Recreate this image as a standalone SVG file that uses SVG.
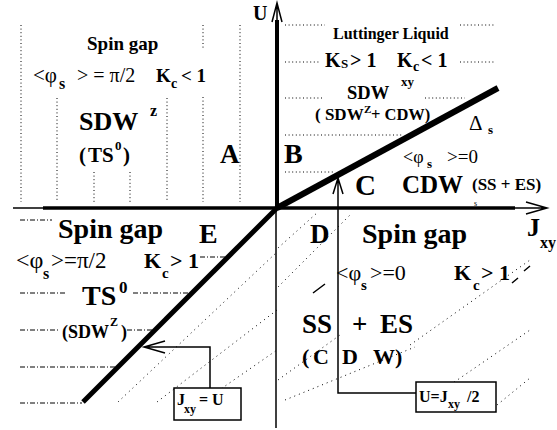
<svg xmlns="http://www.w3.org/2000/svg" width="557" height="430" viewBox="0 0 557 430">
<style>
text{font-family:"Liberation Serif","Times New Roman",serif;fill:#000}
.b{font-weight:bold}
.dot{stroke:#000;stroke-width:1;stroke-dasharray:1 2.6;fill:none}
.dd{stroke:#000;stroke-width:1;stroke-dasharray:5 2 1 2;fill:none}
.hd{stroke:#000;stroke-width:1;stroke-dasharray:1 4;fill:none}
.thin{stroke:#000;stroke-width:1.5;fill:none}
.box{stroke:#000;stroke-width:1.5;fill:#fff}
</style>
<rect width="557" height="430" fill="#fff"/>

<g id="hatching">
<path class="dot" d="M21,25V202M57,98V202M94,172V202M130,172V202M167,98V202M203,25V48M203,97V202M240,25V202"/>
<path class="dot" d="M285,25H325M460,25H495M285,62H320M460,62H495M285,98H322M425,98H465M285,135H403M285,172H335"/>
<path class="dd" d="M20,220H52M200,257H228M20,293H65M133,293H190M20,330H60M127,330H152M20,367H118M20,403H82"/>
<path class="hd" d="M278,248L318,212M278,287L350,215M118,402L277,252M157,402L277,310M205,400L277,350M410,345L530,260M450,385L530,330M497,405L530,378M285,400L415,347M278,380L340,335"/>
<path class="thin" stroke-width="1" d="M313,293L325,284M512,283L518,278M524,271L530,266"/>
</g>

<g id="axes">
<path class="thin" d="M13,208H43"/>
<path stroke="#000" stroke-width="3.5" d="M43,208H515"/>
<path class="thin" d="M515,208H546M526,202L547,208L526,214"/>
<path stroke="#000" stroke-width="4" d="M277,210V20"/>
<path class="thin" d="M277,20V3M272,22L277,3L282,22"/>
<path class="thin" d="M276,208V428"/>
</g>

<g id="connectors">
<path stroke="#000" stroke-width="6" stroke-linecap="butt" d="M277,208L498,88"/>
<path stroke="#000" stroke-width="5" stroke-linecap="butt" d="M277,208L83,402"/>
<path class="thin" d="M338,178V393H416M333,194L338,178L343,194"/>
<path class="thin" d="M210,388V347H145M165,341L144,347L165,353"/>
</g>

<g id="box-u-jxy2">
<rect class="box" x="416" y="382" width="80" height="30"/>
<text class="b" font-size="16" x="419" y="402">U=J</text>
<text class="b" font-size="12" x="448" y="408">xy</text>
<text class="b" font-size="16" x="467" y="402">/2</text>
</g>

<g id="box-jxy-u">
<rect class="box" x="174" y="388" width="67" height="32"/>
<text class="b" font-size="16" x="177" y="405">J</text>
<text class="b" font-size="12" x="184" y="413">xy</text>
<text class="b" font-size="16" x="199" y="405">= U</text>
</g>

<g id="axis-labels">
<text class="b" font-size="20" x="253" y="20">U</text>
<text class="b" font-size="26" x="527" y="236">J</text>
<text class="b" font-size="16" x="540" y="248">xy</text>
</g>

<g id="region-A">
<text class="b" font-size="19" x="87" y="50">Spin gap</text>
<text font-size="21" x="33" y="82">&lt;φ</text>
<text class="b" font-size="16" x="59" y="89">s</text>
<text font-size="20" x="77" y="82">&gt; = π/2</text>
<text class="b" font-size="19" x="156" y="82">K</text>
<text class="b" font-size="14" x="171" y="88">c</text>
<text class="b" font-size="19" x="181" y="82">&lt; 1</text>
<text class="b" font-size="26" x="79" y="130">SDW</text>
<text class="b" font-size="16" x="150" y="116">z</text>
<text class="b" font-size="21" x="79" y="162">(</text>
<text class="b" font-size="21" x="88" y="162">TS</text>
<text class="b" font-size="13" x="115" y="150">0</text>
<text class="b" font-size="21" x="123" y="162">)</text>
<text class="b" font-size="27" x="220" y="163">A</text>
</g>

<g id="region-B">
<text class="b" font-size="16" x="333" y="39">Luttinger Liquid</text>
<text class="b" font-size="20" x="325" y="67">K</text>
<text class="b" font-size="13" x="341" y="68">S</text>
<text class="b" font-size="20" x="350" y="67">&gt; 1</text>
<text class="b" font-size="20" x="397" y="67">K</text>
<text class="b" font-size="14" x="413" y="71">c</text>
<text class="b" font-size="20" x="421" y="67">&lt; 1</text>
<text class="b" font-size="18.5" x="347" y="99">SDW</text>
<text class="b" font-size="13" x="401" y="86">xy</text>
<text class="b" font-size="17" x="315" y="120">( SDW</text>
<text class="b" font-size="11" x="364" y="113">Z</text>
<text class="b" font-size="16.5" x="371" y="120">+ CDW)</text>
<text class="b" font-size="28" x="284" y="163">B</text>
</g>

<g id="region-C">
<text font-size="21" x="469" y="130">Δ</text>
<text class="b" font-size="13" x="488" y="134">s</text>
<text font-size="18" x="403" y="163">&lt;φ</text>
<text class="b" font-size="13" x="427" y="168">s</text>
<text font-size="19" x="447" y="163">&gt;=0</text>
<text class="b" font-size="29" x="355" y="195">C</text>
<text class="b" font-size="25" x="402" y="193">CDW</text>
<text class="b" font-size="17" x="472" y="190">(SS + ES)</text>
<text font-size="8" x="474" y="206">s</text>
</g>

<g id="region-E">
<text class="b" font-size="28" x="58" y="238">Spin gap</text>
<text class="b" font-size="28" x="199" y="243">E</text>
<text font-size="24" x="16" y="268">&lt;φ</text>
<text class="b" font-size="16" x="43" y="279">s</text>
<text font-size="23" x="51" y="268">&gt;=π/2</text>
<text class="b" font-size="22" x="144" y="268">K</text>
<text class="b" font-size="15" x="162" y="278">c</text>
<text class="b" font-size="22" x="170" y="268">&gt; 1</text>
<text class="b" font-size="28" x="82" y="305">TS</text>
<text class="b" font-size="17" x="119" y="293">0</text>
<text class="b" font-size="18" x="62" y="338">(</text>
<text class="b" font-size="18" x="68" y="338">SDW</text>
<text class="b" font-size="12" x="110" y="326">Z</text>
<text class="b" font-size="18" x="121" y="338">)</text>
</g>

<g id="region-D">
<text class="b" font-size="27" x="310" y="243">D</text>
<text class="b" font-size="28" x="362" y="243">Spin gap</text>
<text font-size="22" x="336" y="280">&lt;φ</text>
<text class="b" font-size="15" x="361" y="290">s</text>
<text font-size="22" x="370" y="280">&gt;=0</text>
<text class="b" font-size="22" x="454" y="280">K</text>
<text class="b" font-size="15" x="473" y="290">c</text>
<text class="b" font-size="22" x="481" y="280">&gt; 1</text>
<text class="b" font-size="27" x="302" y="333">SS</text>
<text class="b" font-size="27" x="352" y="333">+</text>
<text class="b" font-size="27" x="380" y="333">ES</text>
<text class="b" font-size="22" x="302" y="364">(</text>
<text class="b" font-size="22" x="313" y="364">C</text>
<text class="b" font-size="22" x="342" y="364">D</text>
<text class="b" font-size="22" x="373" y="364">W)</text>
</g>
</svg>
